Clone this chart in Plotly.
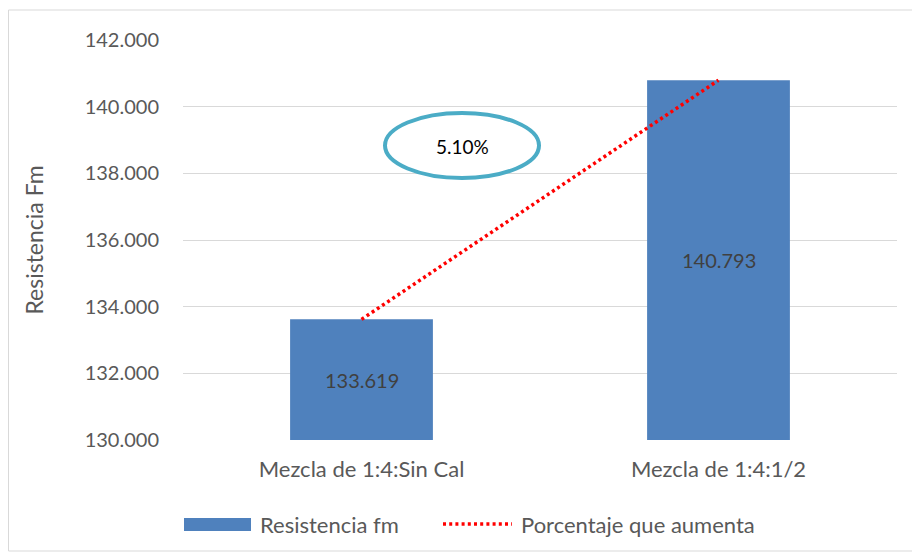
import plotly.graph_objects as go

categories = ["Mezcla de 1:4:Sin Cal", "Mezcla de 1:4:1/2"]
resistencia = [133.619, 140.793]
bar_labels = ["133.619", "140.793"]
tick_vals = [130, 132, 134, 136, 138, 140, 142]
tick_text = ["130.000", "132.000", "134.000", "136.000", "138.000", "140.000", "142.000"]
porcentaje_label = "5.10%"
y_min, y_max = 130, 142

FONT = "Lato"
fig = go.Figure()
fig.add_trace(go.Bar(
    x=categories, y=resistencia, width=0.4,
    marker=dict(color="#4F81BD", line=dict(width=0)),
    name="Resistencia fm", showlegend=False,
))
fig.add_trace(go.Scatter(
    x=categories, y=resistencia, mode="lines",
    line=dict(color="#FF0000", width=3.5, dash="3px,3.2px"),
    name="Porcentaje que aumenta", showlegend=False,
))

OFF = 8  # page body margin
W, H = 912, 549
L, R, T, B = 175, 23, 32, 117
pw, ph = W - L - R, H - T - B
def px(x): return (x - OFF - L) / pw
def py(y): return (H - B - (y - OFF)) / ph

shapes = [
    dict(type="rect", xref="paper", yref="paper", x0=px(8.5), x1=px(915), y0=py(551), y1=py(10),
         line=dict(color="#D9D9D9", width=1), fillcolor="rgba(0,0,0,0)", layer="below"),
    dict(type="circle", xref="paper", yref="paper", x0=px(385), x1=px(539), y0=py(178), y1=py(113),
         line=dict(color="#4BACC6", width=4), fillcolor="white"),
    dict(type="rect", xref="paper", yref="paper", x0=px(184), x1=px(251), y0=py(531), y1=py(518),
         line=dict(width=0), fillcolor="#4F81BD"),
    dict(type="line", xref="paper", yref="paper", x0=px(443), x1=px(512), y0=py(524), y1=py(524),
         line=dict(color="#FF0000", width=3.5, dash="3px,3.2px")),
]
annotations = [
    dict(xref="paper", yref="paper", x=px(462), y=py(146), text=porcentaje_label, showarrow=False,
         font=dict(family=FONT, size=19, color="#000000"), xanchor="center", yanchor="middle"),
    dict(xref="paper", yref="paper", x=px(258), y=py(524), text="Resistencia fm", showarrow=False,
         font=dict(family=FONT, size=22, color="#595959"), xanchor="left", yanchor="middle"),
    dict(xref="paper", yref="paper", x=px(519), y=py(524), text="Porcentaje que aumenta", showarrow=False,
         font=dict(family=FONT, size=22, color="#595959"), xanchor="left", yanchor="middle"),
]
for c, v, t in zip(categories, resistencia, bar_labels):
    annotations.append(dict(x=c, y=(v + y_min) / 2, text=t, showarrow=False,
                            font=dict(family=FONT, size=20, color="#404040"),
                            xanchor="center", yanchor="middle"))

fig.update_layout(
    width=W, height=H,
    margin=dict(l=L, r=R, t=T, b=B, pad=0, autoexpand=False),
    paper_bgcolor="white", plot_bgcolor="white",
    shapes=shapes, annotations=annotations, showlegend=False,
    xaxis=dict(range=[-0.5, 1.5], showgrid=False, showline=False, ticks="", automargin=False,
               tickfont=dict(family=FONT, size=22, color="#595959"), ticklabelstandoff=14),
    yaxis=dict(range=[y_min, y_max], tickvals=tick_vals, ticktext=tick_text, automargin=False,
               showgrid=True, gridcolor="#D9D9D9", gridwidth=1.3,
               zeroline=False, showline=False, ticks="",
               tickfont=dict(family=FONT, size=20, color="#595959"), ticklabelstandoff=23,
               title=dict(text="Resistencia Fm", font=dict(family=FONT, size=23, color="#595959"), standoff=34)),
)
fig.write_html("out.html")
